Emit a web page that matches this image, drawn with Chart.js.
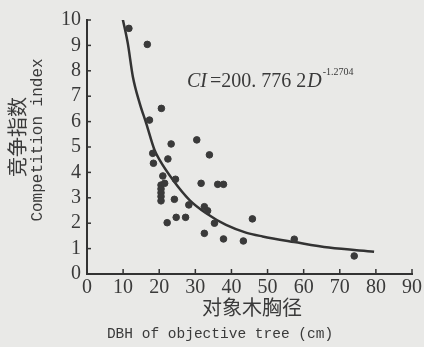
<!DOCTYPE html>
<html>
<head>
<meta charset="utf-8">
<script src="https://cdn.jsdelivr.net/npm/chart.js@4/dist/chart.umd.min.js"></script>
<style>
  html, body { margin: 0; padding: 0; background: #e9e9e7; }
  canvas { display: block; }
</style>
</head>
<body>
<canvas id="ciChart" width="424" height="347"></canvas>
<script>
// measured trees: DBH (cm) and competition index
const dbh = [11.6, 16.7, 20.6, 17.3, 23.3, 30.4, 18.2, 18.4, 22.4, 33.9, 21.0, 24.5,
  20.5, 20.5, 20.5, 20.5, 20.5, 21.5, 31.6, 36.2, 37.8, 24.2, 28.2, 32.5, 33.4, 35.3,
  22.2, 24.7, 27.3, 32.5, 37.8, 43.3, 45.8, 57.4, 74.0];
const ci = [9.67, 9.04, 6.52, 6.06, 5.12, 5.28, 4.75, 4.36, 4.53, 4.69, 3.86, 3.73,
  3.5, 3.35, 3.2, 3.05, 2.88, 3.57, 3.57, 3.53, 3.53, 2.94, 2.72, 2.65, 2.49, 2.0,
  2.02, 2.23, 2.23, 1.6, 1.38, 1.3, 2.17, 1.37, 0.71];

// fitted curve
const fitD = [9.8, 11.3, 12.7, 14.6, 16.4, 18.7, 20.1, 23.8, 28.4, 33, 38.5, 44, 48.6, 57.4, 67, 79.5];
const fitCI = [10.1, 9.08, 7.77, 6.72, 5.93, 4.88, 4.49, 3.7, 2.91, 2.39, 1.93, 1.63, 1.48, 1.26, 1.04, 0.88];

const xTicks = [0, 10, 20, 30, 40, 50, 60, 70, 80, 90];
const yTicks = [0, 1, 2, 3, 4, 5, 6, 7, 8, 9, 10];

const ink = '#3a3a3a';
const serif = '"Liberation Serif", "DejaVu Serif", serif';
const mono = '"Liberation Mono", "DejaVu Sans Mono", monospace';
const cjk = '"Noto Sans CJK SC", sans-serif';

// short ticks pointing into the plot, plus titles and the equation
const decor = {
  id: 'decor',
  afterDraw(chart) {
    const ctx = chart.ctx;
    const a = chart.chartArea;
    const x = chart.scales.x, y = chart.scales.y;
    ctx.save();
    ctx.strokeStyle = '#333';
    ctx.lineWidth = 1.5;
    xTicks.forEach(v => {
      const px = x.getPixelForValue(v);
      ctx.beginPath(); ctx.moveTo(px, a.bottom); ctx.lineTo(px, a.bottom - 5); ctx.stroke();
    });
    yTicks.forEach(v => {
      const py = y.getPixelForValue(v);
      ctx.beginPath(); ctx.moveTo(a.left, py); ctx.lineTo(a.left + 4, py); ctx.stroke();
    });

    ctx.fillStyle = ink;
    ctx.textAlign = 'center';
    ctx.textBaseline = 'middle';
    ctx.font = '20px ' + cjk;
    ctx.fillText('对象木胸径', 252, 307);
    ctx.font = '14.5px ' + mono;
    ctx.fillText('DBH of objective tree (cm)', 220, 334);

    ctx.save();
    ctx.translate(17, 137);
    ctx.rotate(-Math.PI / 2);
    ctx.font = '20px ' + cjk;
    ctx.fillText('竞争指数', 0, 0);
    ctx.restore();
    ctx.save();
    ctx.translate(38, 140);
    ctx.rotate(-Math.PI / 2);
    ctx.font = '16px ' + mono;
    ctx.fillText('Competition index', 0, 0);
    ctx.restore();

    // CI =200. 776 2D^-1.2704
    ctx.textAlign = 'left';
    ctx.textBaseline = 'alphabetic';
    let cx = 187;
    const base = 87;
    ctx.font = 'italic 20px ' + serif;
    ctx.fillText('CI', cx, base);
    cx += ctx.measureText('CI').width + 3;
    ctx.font = '20px ' + serif;
    ctx.fillText('=200. 776 2', cx, base);
    cx += ctx.measureText('=200. 776 2').width + 1;
    ctx.font = 'italic 20px ' + serif;
    ctx.fillText('D', cx, base);
    cx += ctx.measureText('D').width + 1;
    ctx.font = '10px ' + serif;
    ctx.fillText('-1.2704', cx, base - 12);
    ctx.restore();
  }
};

new Chart(document.getElementById('ciChart'), {
  type: 'scatter',
  data: {
    datasets: [
      {
        data: dbh.map((d, i) => ({ x: d, y: ci[i] })),
        backgroundColor: ink,
        borderColor: ink,
        pointRadius: 3.3,
        pointHoverRadius: 3.3
      },
      {
        type: 'line',
        data: fitD.map((d, i) => ({ x: d, y: fitCI[i] })),
        borderColor: '#333',
        borderWidth: 2.5,
        pointRadius: 0,
        fill: false,
        cubicInterpolationMode: 'monotone'
      }
    ]
  },
  options: {
    responsive: false,
    animation: false,
    devicePixelRatio: 1,
    layout: { padding: { top: 20, right: 11, left: 0, bottom: 0 } },
    plugins: { legend: { display: false }, tooltip: { enabled: false } },
    scales: {
      x: {
        type: 'linear', min: 0, max: 90,
        afterBuildTicks: s => { s.ticks = xTicks.map(v => ({ value: v })); },
        afterFit: s => { s.height = 73; },
        ticks: { color: ink, font: { family: serif, size: 20 }, padding: 2, maxRotation: 0, autoSkip: false },
        grid: { display: true, drawOnChartArea: false, drawTicks: false },
        border: { color: '#333', width: 2 }
      },
      y: {
        min: 0, max: 10,
        afterBuildTicks: s => { s.ticks = yTicks.map(v => ({ value: v })); },
        afterFit: s => { s.width = 87; },
        ticks: { color: ink, font: { family: serif, size: 20 }, padding: 6, autoSkip: false },
        grid: { display: true, drawOnChartArea: false, drawTicks: false },
        border: { color: '#333', width: 2 }
      }
    }
  },
  plugins: [decor]
});
</script>
</body>
</html>
